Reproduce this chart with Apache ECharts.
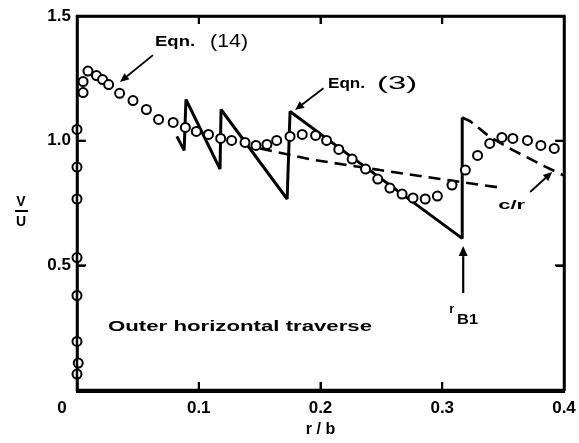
<!DOCTYPE html>
<html><head><meta charset="utf-8">
<script src="https://cdn.jsdelivr.net/npm/echarts@6/dist/echarts.min.js"></script>
<style>
html,body{margin:0;padding:0;background:#fff}
#wrap{position:relative;width:579px;height:443px}
#c{width:579px;height:443px}
#box{position:absolute;left:75.75px;top:14.75px;width:489.5px;height:378.5px;box-sizing:border-box;border:2.5px solid #000;pointer-events:none}
</style>
</head><body><div id="wrap"><div id="c"></div><div id="box"></div></div>
<script>
// ---- data ----
const xTickValues = [0, 0.1, 0.2, 0.3, 0.4];
const yTickValues = [0, 0.5, 1.0, 1.5];

// measured points (open circles): r/b and V/U
const circleR = [0.000,0.001,0.000,0.000,0.000,0.000,0.000,0.000,0.005,0.005,
  0.009,0.016,0.021,0.026,0.035,0.046,0.057,0.067,0.079,0.089,
  0.098,0.108,0.118,0.127,0.138,0.147,0.156,0.164,0.175,0.185,
  0.196,0.205,0.215,0.226,0.237,0.247,0.257,0.267,0.276,0.286,
  0.296,0.308,0.319,0.329,0.339,0.349,0.358,0.370,0.381,0.392];
const circleV = [0.064,0.108,0.195,0.379,0.531,0.766,0.894,1.045,1.193,1.237,
  1.279,1.261,1.245,1.225,1.190,1.161,1.125,1.085,1.073,1.053,
  1.037,1.025,1.009,1.001,0.993,0.981,0.985,1.001,1.017,1.025,
  1.021,1.001,0.965,0.926,0.886,0.846,0.810,0.786,0.770,0.766,
  0.778,0.822,0.882,0.941,0.989,1.013,1.009,1.001,0.981,0.969];

// Eqn. (3) sawtooth (solid)
const eq3R = [0.082,0.088,0.0895,0.1175,0.1183,0.1726,0.175,0.2268,0.3164,0.3164];
const eq3V = [1.017,0.961,1.165,0.886,1.125,0.766,1.117,0.930,0.608,1.093];

// upper dashed curve (after r_B1 jump)
const upperR = [0.3164,0.3230,0.339,0.358,0.385,0.400];
const upperV = [1.093,1.078,1.015,0.962,0.895,0.860];

// lower dashed curve c/r
const lowerR = [0.1504,0.1915,0.249,0.2983,0.350];
const lowerV = [0.969,0.925,0.882,0.846,0.810];

// ---- layout ----
const FONT = '"Liberation Sans", Arial, sans-serif';
const INK = '#000';
const W = 579, H = 443;
const GRID = {left: 77, right: 15, top: 16, bottom: 51};
const XMIN = 0, XMAX = 0.4, YMIN = 0, YMAX = 1.5;
const at = (r, v) => [
  GRID.left + (r - XMIN) / (XMAX - XMIN) * (W - GRID.left - GRID.right),
  (H - GRID.bottom) - (v - YMIN) / (YMAX - YMIN) * (H - GRID.top - GRID.bottom)
];

const pairs = (a, b) => a.map((v, i) => [v, b[i]]);
const frame = () => ({show: true, onZero: false, lineStyle: {color: INK, width: 2.5}});
const tick = () => ({show: true, inside: true, length: 8, lineStyle: {color: INK, width: 2}});

const mctx = document.createElement('canvas').getContext('2d');
function txt(str, x, y, font, targetW) {
  mctx.font = font;
  const w = mctx.measureText(str).width;
  const s = (targetW && w > 0) ? targetW / w : 1;
  return {type: 'text', x: x, y: y, scaleX: s, z: 10,
    style: {text: str, font: font, fill: INK, align: 'left', textAlign: 'left',
      verticalAlign: 'middle', textVerticalAlign: 'middle'}};
}
function arrow(a, b, lw, head, wide) {
  const dx = b[0] - a[0], dy = b[1] - a[1];
  const L = Math.hypot(dx, dy), ux = dx / L, uy = dy / L;
  const bx = b[0] - ux * head, by = b[1] - uy * head;
  const nx = -uy * wide, ny = ux * wide;
  return [
    {type: 'line', z: 10, shape: {x1: a[0], y1: a[1], x2: bx, y2: by}, style: {stroke: INK, lineWidth: lw}},
    {type: 'polygon', z: 10, shape: {points: [[b[0], b[1]], [bx + nx, by + ny], [bx - nx, by - ny]]}, style: {fill: INK}}
  ];
}

const g = [];
let p;
p = at(0.0641, 1.396); g.push(txt('Eqn.', p[0], p[1], 'bold 14px ' + FONT, 40));
p = at(0.1093, 1.396); g.push(txt('(14)', p[0], p[1], '19px ' + FONT, 38));
p = at(0.2062, 1.229); g.push(txt('Eqn.', p[0], p[1], 'bold 14px ' + FONT, 37));
p = at(0.2465, 1.229); g.push(txt('(3)', p[0], p[1], '19px ' + FONT, 40));
p = at(0.3459, 0.746); g.push(txt('c/r', p[0], p[1], 'bold 13px ' + FONT, 27));
p = at(0.3057, 0.327); g.push(txt('r', p[0], p[1], 'bold 12px ' + FONT, 5));
p = at(0.3122, 0.287); g.push(txt('B1', p[0], p[1], 'bold 14px ' + FONT, 21));
p = at(0.0255, 0.259); g.push(txt('Outer horizontal traverse', p[0], p[1], 'bold 15px ' + FONT, 264));

g.push(...arrow(at(0.0624, 1.344), at(0.0353, 1.237), 1.8, 9, 4));
g.push(...arrow(at(0.2024, 1.212), at(0.1791, 1.125), 1.8, 9, 4));
g.push(...arrow(at(0.3722, 0.798), at(0.3903, 0.878), 1.8, 9, 4));
g.push(...arrow(at(0.3172, 0.395), at(0.3172, 0.582), 2.2, 10, 4.5));

g.push({type: 'text', x: 21, y: 202, z: 10, style: {text: 'V', font: 'bold 14px ' + FONT, fill: INK, align: 'center', textAlign: 'center', verticalAlign: 'middle', textVerticalAlign: 'middle'}});
g.push({type: 'line', z: 10, shape: {x1: 15, y1: 211, x2: 28, y2: 211}, style: {stroke: INK, lineWidth: 2}});
g.push({type: 'text', x: 21, y: 222, z: 10, style: {text: 'U', font: 'bold 14px ' + FONT, fill: INK, align: 'center', textAlign: 'center', verticalAlign: 'middle', textVerticalAlign: 'middle'}});

// frame + inside ticks drawn by a custom series through the axis scales
function renderFrame(params, api) {
  const a = api.coord([XMIN, YMIN]), b = api.coord([XMAX, YMAX]);
  const ch = [{type: 'rect', shape: {x: a[0], y: b[1], width: b[0] - a[0], height: a[1] - b[1]},
    style: {fill: 'none', stroke: INK, lineWidth: 2.5}}];
  xTickValues.slice(1, -1).forEach(t => {
    const lo = api.coord([t, YMIN]), hi = api.coord([t, YMAX]);
    ch.push({type: 'line', shape: {x1: lo[0], y1: lo[1], x2: lo[0], y2: lo[1] - 8}, style: {stroke: INK, lineWidth: 2}});
    ch.push({type: 'line', shape: {x1: hi[0], y1: hi[1], x2: hi[0], y2: hi[1] + 8}, style: {stroke: INK, lineWidth: 2}});
  });
  yTickValues.slice(1, -1).forEach(t => {
    const l = api.coord([XMIN, t]), r = api.coord([XMAX, t]);
    ch.push({type: 'line', shape: {x1: l[0], y1: l[1], x2: l[0] + 9, y2: l[1]}, style: {stroke: INK, lineWidth: 2}});
    ch.push({type: 'line', shape: {x1: r[0], y1: r[1], x2: r[0] - 9, y2: r[1]}, style: {stroke: INK, lineWidth: 2}});
  });
  return {type: 'group', children: ch};
}

const chart = echarts.init(document.getElementById('c'));
chart.setOption({
  animation: false,
  grid: GRID,
  xAxis: [{
    type: 'value', min: XMIN, max: XMAX, interval: 0.1, position: 'bottom',
    axisLine: frame(), axisTick: tick(), splitLine: {show: false},
    axisLabel: {
      margin: 10, color: INK, fontFamily: FONT, fontWeight: 'bold', fontSize: 17,
      formatter: v => Math.abs(v) < 1e-9 ? '{z|0}' : v.toFixed(1),
      rich: {z: {padding: [0, 30, 0, 0], color: INK, fontFamily: FONT, fontWeight: 'bold', fontSize: 17}}
    },
    name: 'r / b', nameLocation: 'middle', nameGap: 32,
    nameTextStyle: {color: INK, fontFamily: FONT, fontWeight: 'bold', fontSize: 16}
  }, {
    type: 'value', min: XMIN, max: XMAX, interval: 0.1, position: 'top',
    axisLine: frame(), axisTick: tick(), axisLabel: {show: false}, splitLine: {show: false}
  }],
  yAxis: [{
    type: 'value', min: YMIN, max: YMAX, interval: 0.5, position: 'left',
    axisLine: frame(), axisTick: tick(), splitLine: {show: false},
    axisLabel: {
      margin: 6, color: INK, fontFamily: FONT, fontWeight: 'bold', fontSize: 17, showMinLabel: false,
      formatter: v => v.toFixed(1)
    }
  }, {
    type: 'value', min: YMIN, max: YMAX, interval: 0.5, position: 'right',
    axisLine: frame(), axisTick: tick(), axisLabel: {show: false}, splitLine: {show: false}
  }],
  graphic: {elements: g},
  series: [
    {type: 'custom', data: [[XMIN, YMIN]], renderItem: renderFrame, clip: false, z: 8, silent: true},
    {type: 'line', data: pairs(eq3R, eq3V), symbol: 'none', z: 2,
     lineStyle: {color: INK, width: 3}},
    {type: 'line', data: pairs(upperR, upperV), symbol: 'none', z: 2,
     lineStyle: {color: INK, width: 2.6, type: [12, 7]}},
    {type: 'line', data: pairs(lowerR, lowerV), symbol: 'none', z: 2,
     lineStyle: {color: INK, width: 2.6, type: [12, 7]}},
    {type: 'scatter', data: pairs(circleR, circleV), symbol: 'circle', symbolSize: 9, z: 5,
     itemStyle: {color: '#fff', borderColor: INK, borderWidth: 2, opacity: 1}}
  ]
});
</script>
</body></html>
